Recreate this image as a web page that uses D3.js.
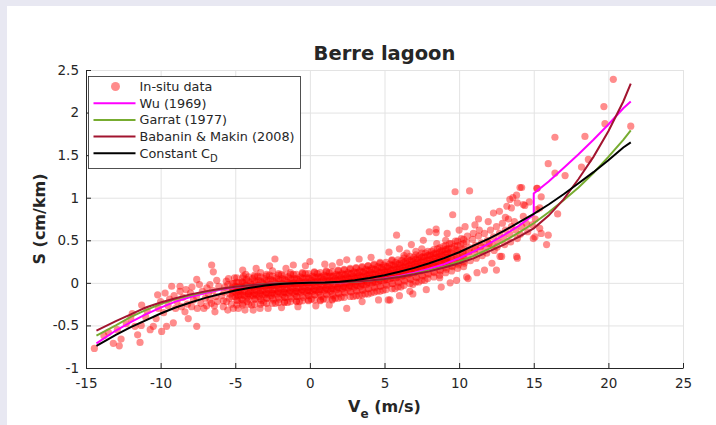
<!DOCTYPE html>
<html>
<head>
<meta charset="utf-8">
<script src="https://cdn.jsdelivr.net/npm/d3@7"></script>
<style>
  body { margin: 0; background: #e8e8f2; }
  text { font-family: "DejaVu Sans", sans-serif; fill: #262626; }
</style>
</head>
<body>
<div id="chart"></div>
<script>
// in-situ points, [Ve, S]
const insitu = [
  [-14.44,-0.77],[-13.17,-0.71],[-12.77,-0.74],[-12.65,-0.66],[-11.38,-0.70],[-11.54,-0.61],[-11.72,-0.51],[-11.3,-0.50],
  [-11.27,-0.26],[-10.7,-0.55],[-10.49,-0.51],[-10.15,-0.30],[-9.93,-0.57],[-9.6,-0.51],[-9.15,-0.47],[-9.26,-0.04],
  [-8.7,-0.04],[-8.7,-0.10],[-8.37,-0.34],[-8.15,-0.42],[-7.92,-0.28],[-7.58,0.04],[-7.58,-0.51],[-7.54,-0.30],
  [-6.58,0.21],[-6.47,0.13],[-6.36,-0.34],[-6.91,-0.27],[-6.69,-0.20],[-6.24,0.03],[-5.8,-0.28],[-5.58,-0.22],[-5.13,-0.30],
  [-13.8,-0.62],[-13.5,-0.58],[-12.9,-0.55],[-12.3,-0.48],[-12.0,-0.42],[-11.9,-0.36],[-11.0,-0.40],[-10.9,-0.33],
  [-10.3,-0.42],[-10.0,-0.22],[-9.8,-0.35],[-9.5,-0.27],[-9.4,-0.19],[-9.0,-0.30],[-8.9,-0.22],[-8.5,-0.17],[-8.2,-0.25],
  [-8.0,-0.12],[-7.8,-0.20],[-7.6,-0.16],[-7.3,-0.24],[-7.2,-0.10],[-7.0,-0.18],[-6.9,-0.06],[-6.8,-0.13],[-6.6,-0.24],
  [-6.5,-0.09],[-6.3,-0.16],[-6.2,-0.22],[-6.1,-0.04],[-10.2,-0.14],[-9.7,-0.12],[-9.1,-0.15],[-8.6,-0.28],[-8.3,-0.08],
  [-7.9,-0.05],[-7.4,-0.02],[-7.1,-0.30],[-6.7,-0.02],[-6.4,-0.27],[-4.35,-0.32],[-3.34,-0.30],
  [-5.5,-0.32],[-4.8,-0.30],[-3.8,-0.32],[-2.8,-0.30],[-1.9,-0.29],[-0.8,-0.28],[0.4,-0.27],[1.3,-0.26],
  [-4.5,0.15],[-3.6,0.17],[-2.7,0.20],[-1.6,0.17],[-0.3,0.20],[1.0,0.22],[2.0,0.24],
  [1.5,0.20],[3.3,0.28],[4.1,0.30],[6.0,0.40],[6.8,0.45],[7.6,0.50],[5.3,0.36],[9.2,0.58],[10.0,0.62],[11.3,0.75],
  [3.5,-0.22],[4.6,-0.20],[6.0,-0.15],[6.9,-0.13],[7.8,-0.08],[8.8,-0.05],[9.4,0.0],[11.2,0.12],[11.7,0.15],[12.5,0.15],
  [-5.9,-0.15],[-5.7,-0.05],[-5.8,-0.21],[-5.6,0.02],[-5.75,-0.11],
  [-5.4,-0.18],[-5.3,-0.09],[-5.5,-0.02],[-5.35,-0.13],[-5.45,0.05],[-5.25,-0.25],
  [-5.0,-0.16],[-4.9,-0.08],[-5.1,-0.01],[-4.95,-0.12],[-5.05,0.06],[-4.85,-0.21],[-5.0,-0.04],
  [-4.6,-0.19],[-4.5,-0.11],[-4.7,-0.05],[-4.55,0.01],[-4.65,-0.14],[-4.45,0.08],[-4.6,-0.08],[-4.5,-0.24],
  [-4.2,-0.17],[-4.1,-0.10],[-4.3,-0.03],[-4.15,-0.13],[-4.25,0.04],[-4.05,-0.06],[-4.2,-0.22],[-4.3,0.1],
  [-3.8,-0.15],[-3.7,-0.08],[-3.9,-0.02],[-3.75,-0.12],[-3.85,0.05],[-3.65,-0.19],[-3.8,-0.05],[-3.9,-0.26],[-3.7,0.09],
  [-3.4,-0.16],[-3.3,-0.09],[-3.5,-0.03],[-3.35,-0.12],[-3.45,0.03],[-3.25,-0.21],[-3.4,-0.06],[-3.5,0.08],[-3.3,0.12],
  [-3.0,-0.14],[-2.9,-0.07],[-3.1,-0.01],[-2.95,-0.11],[-3.05,0.05],[-2.85,-0.18],[-3.0,-0.04],[-3.1,-0.23],[-2.9,0.1],
  [-2.6,-0.15],[-2.5,-0.08],[-2.7,-0.02],[-2.55,-0.12],[-2.65,0.04],[-2.45,-0.20],[-2.6,-0.05],[-2.7,0.09],[-2.5,0.14],
  [-2.2,-0.13],[-2.1,-0.06],[-2.3,0.0],[-2.15,-0.10],[-2.25,0.06],[-2.05,-0.19],[-2.2,-0.03],[-2.3,-0.24],[-2.1,0.11],[-2.34,0.28],
  [-1.8,-0.14],[-1.7,-0.07],[-1.9,-0.01],[-1.75,-0.11],[-1.85,0.05],[-1.65,-0.17],[-1.8,-0.04],[-1.9,0.1],[-1.7,-0.22],
  [-1.4,-0.12],[-1.3,-0.05],[-1.5,0.01],[-1.35,-0.09],[-1.45,0.07],[-1.25,-0.18],[-1.4,-0.02],[-1.5,-0.23],[-1.3,0.12],
  [-1.0,-0.13],[-0.9,-0.06],[-1.1,0.0],[-0.95,-0.10],[-1.05,0.05],[-0.85,-0.16],[-1.0,-0.03],[-1.1,0.1],[-0.9,-0.21],[-1.11,0.21],
  [-0.6,-0.11],[-0.5,-0.04],[-0.7,0.02],[-0.55,-0.08],[-0.65,0.07],[-0.45,-0.17],[-0.6,-0.01],[-0.7,-0.22],[-0.5,0.12],
  [-0.2,-0.12],[-0.1,-0.05],[-0.3,0.01],[-0.15,-0.09],[-0.25,0.06],[-0.05,-0.15],[-0.2,-0.02],[-0.3,0.11],[-0.1,-0.2],
  [0.2,-0.1],[0.3,-0.03],[0.1,0.03],[0.25,-0.07],[0.15,0.08],[0.35,-0.14],[0.2,0.0],[0.1,-0.19],[0.3,0.13],[0.0,0.25],
  [0.6,-0.11],[0.7,-0.04],[0.5,0.02],[0.65,-0.08],[0.55,0.07],[0.75,-0.16],[0.6,-0.01],[0.5,0.11],[0.7,-0.21],
  [1.0,-0.09],[1.1,-0.02],[0.9,0.04],[1.05,-0.06],[0.95,0.09],[1.15,-0.14],[1.0,0.01],[0.9,-0.19],[1.1,0.14],
  [1.4,-0.1],[1.5,-0.03],[1.3,0.03],[1.45,-0.07],[1.35,0.08],[1.55,-0.15],[1.4,0.0],[1.3,0.12],[1.5,-0.2],
  [1.8,-0.08],[1.9,-0.01],[1.7,0.05],[1.85,-0.05],[1.75,0.1],[1.95,-0.13],[1.8,0.02],[1.7,-0.18],[1.9,0.15],
  [2.2,-0.07],[2.3,0.0],[2.1,0.06],[2.25,-0.04],[2.15,0.11],[2.35,-0.12],[2.2,0.03],[2.1,-0.17],[2.3,0.16],
  [2.6,-0.06],[2.7,0.01],[2.5,0.07],[2.65,-0.03],[2.55,0.12],[2.75,-0.11],[2.6,0.04],[2.47,-0.30],[2.47,0.27],[2.7,0.17],
  [3.0,-0.05],[3.1,0.02],[2.9,0.08],[3.05,-0.02],[2.95,0.13],[3.15,-0.1],[3.0,0.05],[2.9,-0.16],[3.1,0.18],
  [3.4,-0.04],[3.5,0.03],[3.3,0.09],[3.45,-0.01],[3.35,0.14],[3.55,-0.09],[3.4,0.06],[3.3,-0.15],[3.5,0.19],
  [3.8,-0.02],[3.9,0.05],[3.7,0.11],[3.85,0.01],[3.75,0.16],[3.95,-0.07],[3.8,0.08],[3.7,-0.13],[3.9,0.2],
  [4.2,0.0],[4.3,0.06],[4.1,0.12],[4.25,0.03],[4.15,0.17],[4.35,-0.06],[4.2,0.09],[4.1,-0.12],[4.3,0.22],
  [4.6,0.01],[4.7,0.08],[4.5,0.14],[4.65,0.04],[4.55,0.19],[4.75,-0.04],[4.6,0.11],[4.5,-0.1],[4.7,0.24],
  [5.0,0.03],[5.1,0.1],[4.9,0.16],[5.05,0.06],[4.95,0.21],[5.15,-0.03],[5.0,0.13],[4.9,-0.09],[5.25,-0.2],
  [5.4,0.05],[5.5,0.11],[5.3,0.17],[5.45,0.08],[5.35,0.22],[5.55,-0.01],[5.4,0.14],[5.37,-0.2],[5.5,0.27],
  [5.8,0.06],[5.9,0.13],[5.7,0.19],[5.85,0.09],[5.75,0.24],[5.95,0.0],[5.8,0.16],[5.7,-0.07],[5.81,0.56],
  [6.2,0.08],[6.3,0.15],[6.1,0.21],[6.25,0.11],[6.15,0.26],[6.35,0.02],[6.2,0.18],[6.1,-0.05],[6.3,0.32],
  [6.6,0.1],[6.7,0.17],[6.5,0.23],[6.65,0.13],[6.55,0.28],[6.75,0.04],[6.6,0.2],[6.7,-0.1],[6.5,0.35],
  [7.0,0.12],[7.1,0.19],[6.9,0.25],[7.05,0.15],[6.95,0.3],[7.15,0.06],[7.0,0.22],[6.9,-0.02],[7.1,0.37],
  [7.4,0.14],[7.5,0.21],[7.3,0.27],[7.45,0.17],[7.35,0.32],[7.55,0.08],[7.4,0.24],[7.3,0.01],[7.5,0.4],
  [7.8,0.16],[7.9,0.23],[7.7,0.3],[7.85,0.19],[7.75,0.35],[7.95,0.1],[7.8,0.26],[7.7,0.03],[8.0,0.6],
  [8.2,0.18],[8.3,0.25],[8.1,0.32],[8.25,0.21],[8.15,0.37],[8.35,0.12],[8.2,0.29],[8.46,0.63],[8.46,0.59],
  [8.6,0.2],[8.7,0.28],[8.5,0.34],[8.65,0.24],[8.55,0.4],[8.75,0.14],[8.6,0.31],[8.7,0.06],[8.5,0.46],
  [9.0,0.23],[9.1,0.3],[8.9,0.37],[9.05,0.26],[8.95,0.43],[9.15,0.16],[9.0,0.34],[9.1,0.5],
  [9.4,0.25],[9.5,0.33],[9.3,0.4],[9.45,0.29],[9.35,0.46],[9.55,0.19],[9.4,0.36],[9.57,0.8],[9.73,1.07],
  [9.8,0.28],[9.9,0.36],[9.7,0.43],[9.85,0.32],[9.75,0.49],[9.95,0.21],[9.83,0.03],[9.8,0.39],
  [10.2,0.3],[10.3,0.38],[10.1,0.45],[10.25,0.34],[10.15,0.52],[10.35,0.23],[10.5,0.07],[10.4,0.66],[10.7,1.08],
  [10.6,0.33],[10.7,0.41],[10.5,0.48],[10.65,0.37],[10.55,0.55],[10.75,0.26],[10.6,0.05],
  [11.0,0.36],[11.1,0.44],[10.9,0.51],[11.05,0.4],[10.95,0.58],[11.15,0.29],[11.06,0.68],
  [11.4,0.38],[11.5,0.47],[11.3,0.55],[11.45,0.43],[11.35,0.62],[11.55,0.32],
  [11.8,0.42],[11.9,0.5],[11.7,0.58],[11.95,0.72],[11.85,0.35],[12.0,0.46],
  [12.2,0.45],[12.3,0.54],[12.1,0.62],[12.2,0.23],[12.3,0.82],[12.35,0.38],
  [12.6,0.49],[12.7,0.58],[12.5,0.66],[12.7,0.84],[12.74,0.31],[12.85,0.31],[12.55,0.42],
  [13.0,0.53],[13.1,0.62],[12.9,0.7],[13.2,0.90],[13.05,0.45],[13.1,0.77],
  [13.4,0.57],[13.5,0.66],[13.3,0.75],[13.5,0.88],[13.4,0.98],[13.45,0.48],[13.6,1.0],
  [13.85,0.31],[13.9,0.29],[13.85,1.03],[13.9,0.94],[13.8,0.62],[13.7,0.72],[13.9,0.52],[14.08,1.12],
  [14.3,0.92],[14.4,0.91],[14.19,1.12],[14.2,0.66],[14.3,0.78],[14.1,0.57],[14.7,0.95],[14.5,0.7],[14.6,0.6],
  [15.2,0.86],[15.4,0.88],[15.24,1.11],[15.5,1.01],[15.5,0.58],[15.97,0.56],[15.86,0.45],[15.08,0.54],
  [15.4,0.64],[14.97,0.52],[15.1,0.75],[14.9,0.68],[15.2,1.11],
  [16.6,0.81],[16.42,1.71],[18.43,1.72],[15.97,1.40],[16.42,1.29],[17.1,1.26],[18.2,1.36],[18.66,1.45],
  [20.33,2.39],[19.7,2.07],[19.77,1.87],[21.5,1.84]
];

// extra points in the dense core, [Ve, S, S, ...]
const insituCore = [
  [-5.2,-0.16,-0.11,-0.06,-0.01],[-4.8,-0.15,-0.1,-0.05,0.0],[-4.4,-0.15,-0.1,-0.05,0.0],[-4.0,-0.15,-0.1,-0.05,0.0],
  [-3.6,-0.14,-0.09,-0.04,0.01],[-3.2,-0.14,-0.09,-0.04,0.01],[-2.8,-0.13,-0.08,-0.03,0.02],[-2.4,-0.13,-0.08,-0.03,0.02],
  [-2.0,-0.12,-0.07,-0.02,0.03],[-1.6,-0.12,-0.07,-0.02,0.03],[-1.2,-0.11,-0.06,-0.01,0.04],[-0.8,-0.11,-0.06,-0.01,0.04],
  [-0.4,-0.1,-0.05,0.0,0.05],[0.0,-0.1,-0.05,0.0,0.05],[0.4,-0.09,-0.04,0.01,0.06],[0.8,-0.08,-0.03,0.02,0.07],
  [1.2,-0.08,-0.03,0.02,0.07],[1.6,-0.07,-0.02,0.03,0.08],[2.0,-0.06,-0.01,0.04,0.09],[2.4,-0.05,0.0,0.05,0.1],
  [2.8,-0.04,0.01,0.06,0.11],[3.2,-0.03,0.02,0.07,0.12],[3.6,-0.02,0.03,0.08,0.13],[4.0,0.0,0.05,0.1,0.15],
  [4.4,0.01,0.06,0.11,0.16],[4.8,0.03,0.08,0.13,0.18],[5.2,0.04,0.09,0.14,0.19],[5.6,0.06,0.11,0.16,0.21],
  [6.0,0.08,0.13,0.18,0.23],[6.4,0.1,0.15,0.2,0.25],[6.8,0.12,0.17,0.22,0.27],[7.2,0.14,0.19,0.24,0.29],
  [7.6,0.16,0.21,0.26,0.31],[8.0,0.18,0.23,0.28,0.33],[8.4,0.2,0.25,0.3,0.35],[8.8,0.23,0.28,0.33,0.38],
  [9.2,0.25,0.3,0.35,0.4],
  [-4.9,-0.26,-0.2,-0.14,-0.05,0.01,0.06],[-4.5,-0.26,-0.2,-0.14,-0.05,0.01,0.06],[-4.1,-0.25,-0.19,-0.13,-0.04,0.02,0.07],
  [-3.7,-0.25,-0.19,-0.13,-0.04,0.02,0.07],[-3.3,-0.25,-0.19,-0.13,-0.04,0.02,0.07],[-2.9,-0.24,-0.18,-0.12,-0.03,0.03,0.08],
  [-2.5,-0.24,-0.18,-0.12,-0.03,0.03,0.08],[-2.1,-0.23,-0.17,-0.11,-0.02,0.04,0.09],[-1.7,-0.23,-0.17,-0.11,-0.02,0.04,0.09],
  [-1.3,-0.22,-0.16,-0.1,-0.01,0.05,0.1],[-0.9,-0.22,-0.16,-0.1,-0.01,0.05,0.1],[-0.5,-0.21,-0.15,-0.09,0.0,0.06,0.11],
  [-0.1,-0.21,-0.15,-0.09,0.0,0.06,0.11],[0.3,-0.2,-0.14,-0.08,0.01,0.07,0.12],[0.7,-0.2,-0.14,-0.08,0.01,0.07,0.12],
  [1.1,-0.19,-0.13,-0.07,0.02,0.08,0.13],[1.5,-0.19,-0.13,-0.07,0.02,0.08,0.13],[1.9,-0.18,-0.12,-0.06,0.03,0.09,0.14],
  [2.3,-0.17,-0.11,-0.05,0.04,0.1,0.15],[2.7,-0.16,-0.1,-0.04,0.05,0.11,0.16],[3.1,-0.15,-0.09,-0.03,0.06,0.12,0.17],
  [3.5,-0.14,-0.08,-0.02,0.07,0.13,0.18],[3.9,-0.13,-0.07,0.0,0.09,0.15,0.2],[4.3,-0.11,-0.05,0.01,0.1,0.16,0.21],
  [4.7,-0.1,-0.04,0.03,0.12,0.18,0.23],[5.1,-0.08,-0.02,0.04,0.13,0.19,0.24],[5.5,-0.07,-0.01,0.06,0.15,0.21,0.26],
  [5.9,-0.05,0.01,0.07,0.16,0.22,0.27],[6.3,-0.03,0.03,0.09,0.18,0.24,0.29],[6.7,-0.01,0.05,0.11,0.2,0.26,0.31],
  [7.1,0.01,0.07,0.13,0.22,0.28,0.33],[7.5,0.03,0.09,0.15,0.24,0.3,0.35],[7.9,0.05,0.11,0.17,0.26,0.32,0.37],
  [8.3,0.07,0.13,0.19,0.28,0.34,0.39],[8.7,0.09,0.15,0.21,0.3,0.36,0.41],[9.1,0.12,0.18,0.24,0.33,0.39,0.44],
  [9.5,0.14,0.2,0.26,0.35,0.41,0.46],[9.9,0.17,0.23,0.29,0.38,0.44,0.49],[10.3,0.19,0.25,0.31,0.4,0.46,0.51]
];

// model curves, [Ve, S]
const wu = [[-14.3,-0.71],[-13,-0.56],[-12,-0.46],[-11,-0.37],[-10,-0.29],[-9,-0.22],[-8,-0.166],[-7,-0.12],
  [-6,-0.081],[-5,-0.051],[-4,-0.029],[-3,-0.014],[-2,-0.005],[-1,-0.001],[0,0],[1,0.001],[2,0.005],[3,0.014],
  [4,0.029],[5,0.051],[6,0.081],[7,0.12],[8,0.166],[9,0.22],[10,0.29],[11,0.37],[12,0.46],[13,0.56],[14,0.67],
  [15,0.80],[15,1.05],[16,1.19],[17,1.35],[18,1.51],[19,1.68],[20,1.86],[21,2.05],[21.5,2.13]];
const garrat = [[-14.3,-0.62],[-13,-0.50],[-12,-0.40],[-11,-0.32],[-10,-0.25],[-9,-0.19],[-8,-0.146],[-7,-0.106],
  [-6,-0.073],[-5,-0.046],[-4,-0.029],[-3,-0.014],[-2,-0.006],[-1,-0.0015],[0,0],[1,0.0015],[2,0.006],[3,0.014],
  [4,0.029],[5,0.046],[6,0.073],[7,0.106],[8,0.146],[9,0.19],[10,0.25],[11,0.32],[12,0.40],[13,0.49],[14,0.59],
  [15,0.70],[16,0.83],[17,0.97],[18,1.12],[19,1.29],[20,1.48],[21,1.68],[21.5,1.79]];
const babanin = [[-14.3,-0.56],[-13,-0.45],[-12,-0.37],[-11,-0.29],[-10,-0.23],[-9,-0.18],[-8,-0.135],[-7,-0.10],
  [-6,-0.07],[-5,-0.045],[-4,-0.028],[-3,-0.015],[-2,-0.007],[-1,-0.002],[0,0],[1,0.002],[2,0.007],[3,0.015],
  [4,0.028],[5,0.045],[6,0.07],[7,0.10],[8,0.135],[9,0.18],[10,0.23],[11,0.29],[12,0.37],[13,0.45],[14,0.54],
  [15,0.64],[16,0.79],[17,0.98],[18,1.22],[19,1.48],[20,1.78],[21,2.13],[21.5,2.34]];
const constantCd = [[-14.3,-0.74],[-13,-0.61],[-12,-0.52],[-11,-0.44],[-10,-0.36],[-9,-0.29],[-8,-0.23],[-7,-0.176],
  [-6,-0.13],[-5,-0.09],[-4,-0.058],[-3,-0.032],[-2,-0.014],[-1,-0.004],[0,0],[1,0.004],[2,0.014],[3,0.032],
  [4,0.058],[5,0.09],[6,0.13],[7,0.176],[8,0.23],[9,0.29],[10,0.36],[11,0.44],[12,0.52],[13,0.61],[14,0.71],
  [15,0.81],[16,0.92],[17,1.04],[18,1.17],[19,1.30],[20,1.44],[21,1.59],[21.5,1.65]];

const xTicks = [-15, -10, -5, 0, 5, 10, 15, 20, 25];
const xTickLabels = ["-15", "-10", "-5", "0", "5", "10", "15", "20", "25"];
const yTicks = [-1, -0.5, 0, 0.5, 1, 1.5, 2, 2.5];
const yTickLabels = ["-1", "-0.5", "0", "0.5", "1", "1.5", "2", "2.5"];

const legendLabels = ["In-situ data", "Wu (1969)", "Garrat (1977)", "Babanin & Makin (2008)", "Constant C"];

const margin = {top: 70, right: 33, bottom: 57, left: 86},
    width = 716 - margin.left - margin.right,
    height = 425 - margin.top - margin.bottom;

const root = d3.select("#chart")
  .append("svg")
    .attr("width", 716)
    .attr("height", 425);

root.append("rect")
    .attr("x", 7).attr("y", 6)
    .attr("width", 709).attr("height", 419)
    .attr("fill", "#fff");

const svg = root.append("g")
    .attr("transform", `translate(${margin.left},${margin.top})`);

const x = d3.scaleLinear().domain([-15, 25]).range([0, width]);
const y = d3.scaleLinear().domain([-1, 2.5]).range([height, 0]);

// grid
svg.append("g")
    .attr("transform", `translate(0,${height})`)
    .call(d3.axisBottom(x).tickValues(xTicks).tickSize(-height).tickFormat(""))
    .call(g => g.select(".domain").remove())
    .selectAll("line").attr("stroke", "#e3e3e3");
svg.append("g")
    .call(d3.axisLeft(y).tickValues(yTicks).tickSize(-width).tickFormat(""))
    .call(g => g.select(".domain").remove())
    .selectAll("line").attr("stroke", "#e3e3e3");

svg.append("clipPath").attr("id", "clip")
  .append("rect").attr("width", width).attr("height", height);

const points = insitu.concat(insituCore.flatMap(r => r.slice(1).map(s => [r[0], s])));

svg.append("g")
    .attr("clip-path", "url(#clip)")
  .selectAll("circle")
  .data(points)
  .join("circle")
    .attr("cx", d => x(d[0]))
    .attr("cy", d => y(d[1]))
    .attr("r", 3.6)
    .attr("fill", "#ff0000")
    .attr("fill-opacity", 0.45);

const line = d3.line().x(d => x(d[0])).y(d => y(d[1]));

const curves = [
  {data: wu, color: "#ff00ff"},
  {data: garrat, color: "#77ac30"},
  {data: babanin, color: "#a2142f"},
  {data: constantCd, color: "#000000"}
];

svg.selectAll(".curve")
  .data(curves)
  .join("path")
    .attr("class", "curve")
    .attr("d", d => line(d.data))
    .attr("fill", "none")
    .attr("stroke", d => d.color)
    .attr("stroke-width", 2);

// axes
const xAxis = svg.append("g")
    .attr("transform", `translate(0,${height})`)
    .call(d3.axisBottom(x).tickValues(xTicks).tickSize(-5).tickSizeOuter(0).tickPadding(10)
      .tickFormat((d, i) => xTickLabels[i]));
const yAxis = svg.append("g")
    .call(d3.axisLeft(y).tickValues(yTicks).tickSize(-5).tickSizeOuter(0).tickPadding(7)
      .tickFormat((d, i) => yTickLabels[i]));
[xAxis, yAxis].forEach(a => {
  a.selectAll("path, line").attr("stroke", "#262626");
  a.selectAll("text").style("font-size", "13.5px").attr("fill", "#262626");
});

svg.append("text")
    .attr("x", width / 2).attr("y", -10)
    .attr("text-anchor", "middle")
    .style("font-size", "19.5px").style("font-weight", "bold")
    .attr("fill", "#000")
    .text("Berre lagoon");

const xl = svg.append("text")
    .attr("x", width / 2).attr("y", height + 44)
    .attr("text-anchor", "middle")
    .style("font-size", "16px").style("font-weight", "bold");
xl.append("tspan").text("V");
xl.append("tspan").attr("dy", 6).style("font-size", "12px").text("e");
xl.append("tspan").attr("dy", -6).text(" (m/s)");

svg.append("text")
    .attr("transform", "rotate(-90)")
    .attr("x", -height / 2).attr("y", -41)
    .attr("text-anchor", "middle")
    .style("font-size", "16px").style("font-weight", "bold")
    .text("S (cm/km)");

// legend
const legend = svg.append("g").attr("transform", "translate(2.5,6.5)");
legend.append("rect")
    .attr("width", 212).attr("height", 92)
    .attr("fill", "#fff").attr("stroke", "#262626").attr("stroke-width", 0.8);

const rowY = i => 10 + i * 16.7;
legend.append("circle")
    .attr("cx", 27).attr("cy", rowY(0)).attr("r", 4.5)
    .attr("fill", "#ff0000").attr("fill-opacity", 0.45);
legend.selectAll(".lline")
  .data(curves)
  .join("line")
    .attr("class", "lline")
    .attr("x1", 5).attr("x2", 47)
    .attr("y1", (d, i) => rowY(i + 1)).attr("y2", (d, i) => rowY(i + 1))
    .attr("stroke", d => d.color).attr("stroke-width", 2);
legend.selectAll(".ltext")
  .data(legendLabels)
  .join("text")
    .attr("class", "ltext")
    .attr("x", 51).attr("y", (d, i) => rowY(i) + 4.5)
    .style("font-size", "12.8px").attr("fill", "#000")
    .text(d => d)
    .filter((d, i) => i === 4)
    .append("tspan").attr("dy", 4).style("font-size", "10px").text("D");
</script>
</body>
</html>
